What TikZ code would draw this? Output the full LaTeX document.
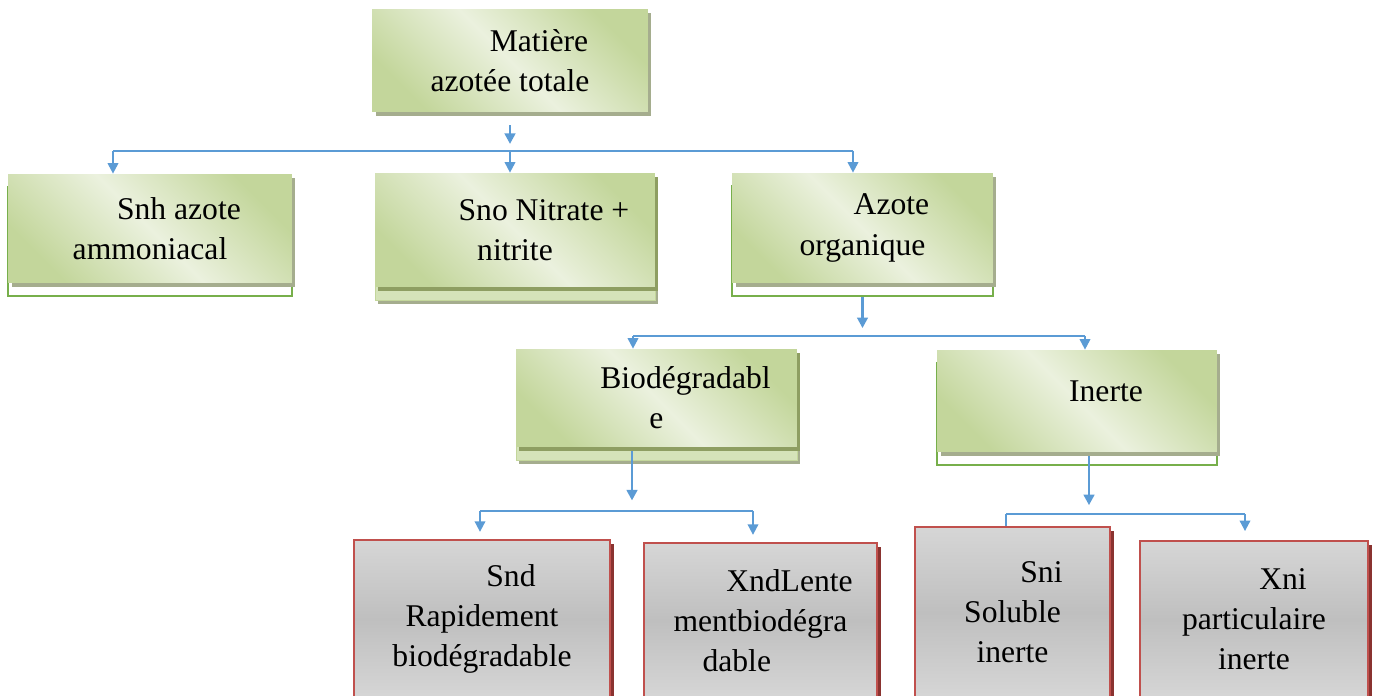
\documentclass[tikz,border=0pt]{standalone}
\usepackage{fontspec}
\setmainfont{Liberation Serif}
\usetikzlibrary{arrows.meta,shadows}
\definecolor{vertclair}{HTML}{EBF1DE}
\definecolor{vertfonce}{HTML}{C3D69B}
\definecolor{vertombre}{HTML}{A5AD8E}
\definecolor{vertbande}{HTML}{8E9E62}
\definecolor{vertcadre}{HTML}{77AF4B}
\definecolor{vertdessous}{HTML}{D5E3B9}
\definecolor{grisclair}{HTML}{D6D6D6}
\definecolor{grisfonce}{HTML}{BFBFBF}
\definecolor{rouge}{HTML}{C0504D}
\definecolor{rougeombre}{HTML}{8A3330}
\definecolor{bleu}{HTML}{5B9BD5}
\newcommand{\decal}{\hspace*{33pt}}
\tikzset{
	texte/.style={align=center, font=\fontsize{18}{22.8}\selectfont},
	boite/.style={texte, top color=vertfonce, bottom color=vertfonce, middle color=vertclair, shading angle=-45},
	ombre/.style={general shadow={shadow xshift=2pt, shadow yshift=-2.5pt, fill=vertombre}},
	cadre/.style={general shadow={shadow yshift=-7.4pt, draw=vertcadre, line width=1.2pt}, ombre},
	pile/.style={general shadow={shadow xshift=1.5pt, shadow yshift=-9.8pt, fill=vertombre},
		general shadow={shadow yshift=-7.4pt, fill=vertdessous, draw=vertfonce},
		general shadow={shadow xshift=1.5pt, shadow yshift=-2pt, fill=vertbande}},
	feuille/.style={texte, draw=rouge, line width=1.3pt, top color=grisclair, bottom color=grisclair, middle color=grisfonce,
		general shadow={shadow xshift=2.5pt, shadow yshift=-2.5pt, fill=rougeombre}},
	bus/.style={draw=bleu, line width=1.1pt},
	fleche/.style={bus, -{Triangle[length=6pt,width=6pt]}},
	tige/.style={fleche, line width=1.6pt}
}
\begin{document}
\begin{tikzpicture}[x=0.02cm, y=-0.02cm]
	\clip (0,0) rectangle (1377,696);
	\node[boite, ombre, minimum width=5.52cm, minimum height=2.06cm] (mat) at (510,60.5) {\decal Matière\\azotée totale};
	\node[boite, cadre, minimum width=5.68cm, minimum height=2.18cm] (snh) at (150,228.5) {\decal Snh azote\\ammoniacal};
	\node[boite, pile, minimum width=5.6cm, minimum height=2.28cm] (sno) at (515,230) {\decal Sno Nitrate +\\nitrite};
	\node[boite, cadre, minimum width=5.22cm, minimum height=2.2cm] (azo) at (862.5,228) {\decal Azote\\organique};
	\node[boite, pile, minimum width=5.62cm, minimum height=1.96cm] (bio) at (656.5,398) {\decal Biodégradabl\\e};
	\node[boite, cadre, minimum width=5.6cm, minimum height=2.04cm] (ine) at (1077,401) {\decal Inerte\\[-12pt]\mbox{}};
	\node[feuille, minimum width=5.12cm, minimum height=3.16cm] (snd) at (482,619) {\decal Snd\\Rapidement\\biodégradable};
	\node[feuille, minimum width=4.66cm, minimum height=3.1cm] (xnd) at (760.5,620.5) {\decal XndLente\\mentbiodégra\\dable\hspace*{27pt}};
	\node[feuille, minimum width=3.9cm, minimum height=3.42cm] (sni) at (1012.5,612.5) {\decal Sni\\Soluble\\inerte};
	\node[feuille, minimum width=4.56cm, minimum height=3.14cm] (xni) at (1254,619.5) {\decal Xni\\particulaire\\inerte};
	\coordinate (b1l) at (113,151);
	\coordinate (b1r) at (853,151);
	\coordinate (b2l) at (633,336);
	\coordinate (b2r) at (1085,336);
	\coordinate (b3) at (632,511);
	\coordinate (b3l) at (480,511);
	\coordinate (b3r) at (753,511);
	\coordinate (b4) at (1089,514);
	\coordinate (b4l) at (1006,514);
	\coordinate (b4r) at (1245,514);
	\draw[tige, shorten <=7.4pt, shorten >=4pt] (mat.south) -- (mat.south |- b1l);
	\draw[bus] (b1l) -- (b1r);
	\draw[fleche] (b1l) -- (b1l |- snh.north);
	\draw[fleche] (mat.south |- b1l) -- (mat.south |- sno.north);
	\draw[fleche] (b1r) -- (b1r |- azo.north);
	\draw[tige, shorten <=8pt, shorten >=4.5pt] (azo.south) -- (azo.south |- b2l);
	\draw[bus] (b2l) -- (b2r);
	\draw[fleche] (b2l) -- (b2l |- bio.north);
	\draw[fleche] (b2r) -- (b2r |- ine.north);
	\draw[tige, shorten <=2pt, shorten >=6pt] (b3 |- bio.south) -- (b3);
	\draw[bus] (b3l) -- (b3r);
	\draw[fleche, shorten >=4pt] (b3l) -- (b3l |- snd.north);
	\draw[fleche, shorten >=4pt] (b3r) -- (b3r |- xnd.north);
	\draw[tige, shorten <=2pt, shorten >=5pt] (b4 |- ine.south) -- (b4);
	\draw[bus] (b4l) -- (b4r) (b4l) -- (b4l |- sni.north);
	\draw[fleche, shorten >=5pt] (b4r) -- (b4r |- xni.north);
\end{tikzpicture}
\end{document}
